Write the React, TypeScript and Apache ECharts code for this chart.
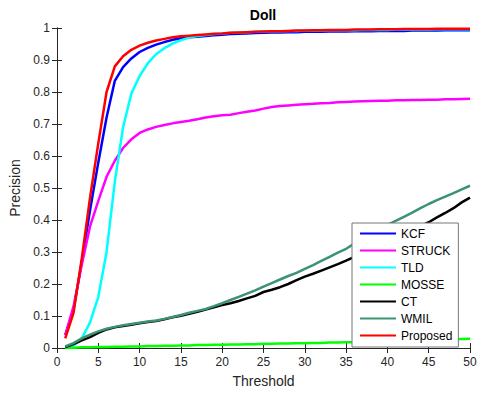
import React, { useEffect, useRef } from "react";
import * as echarts from "echarts";

const thresholds = Array.from({ length: 50 }, (_, i) => i + 1);

const seriesNames = ["KCF", "STRUCK", "TLD", "MOSSE", "CT", "WMIL", "Proposed"];
const seriesColors = ["#0000ff", "#ff00ff", "#00ffff", "#00ff00", "#000000", "#3c9370", "#ff0000"];

const kcf = [
  0.04, 0.12, 0.27, 0.43, 0.58, 0.72, 0.835, 0.878, 0.905, 0.925,
  0.938, 0.948, 0.956, 0.963, 0.968, 0.971, 0.973, 0.975, 0.977, 0.979,
  0.981, 0.982, 0.983, 0.984, 0.985, 0.986, 0.986, 0.987, 0.987, 0.988,
  0.988, 0.988, 0.989, 0.989, 0.989, 0.99, 0.99, 0.99, 0.991, 0.991,
  0.991, 0.991, 0.992, 0.992, 0.992, 0.992, 0.993, 0.993, 0.993, 0.993,
];
const struck = [
  0.04, 0.13, 0.26, 0.38, 0.46, 0.535, 0.585, 0.625, 0.652, 0.672,
  0.683, 0.691, 0.697, 0.702, 0.706, 0.71, 0.715, 0.72, 0.724, 0.727,
  0.729, 0.734, 0.738, 0.742, 0.748, 0.753, 0.756, 0.758, 0.76, 0.762,
  0.763, 0.765, 0.766, 0.768, 0.769, 0.77, 0.771, 0.772, 0.773, 0.773,
  0.774, 0.774, 0.775, 0.775, 0.776, 0.776, 0.777, 0.777, 0.778, 0.779,
];
const tld = [
  0.0, 0.008, 0.03, 0.08, 0.16, 0.3, 0.52, 0.69, 0.795, 0.85,
  0.89, 0.918, 0.937, 0.951, 0.962, 0.97, 0.975, 0.978, 0.981, 0.983,
  0.985, 0.986, 0.987, 0.988, 0.989, 0.99, 0.99, 0.991, 0.991, 0.992,
  0.992, 0.992, 0.993, 0.993, 0.993, 0.993, 0.994, 0.994, 0.994, 0.994,
  0.995, 0.995, 0.995, 0.995, 0.995, 0.996, 0.996, 0.996, 0.996, 0.996,
];
const mosse = [
  0.0, 0.001, 0.002, 0.002, 0.003, 0.003, 0.004, 0.004, 0.005, 0.005,
  0.006, 0.006, 0.007, 0.007, 0.008, 0.008, 0.009, 0.009, 0.01, 0.01,
  0.011, 0.011, 0.012, 0.012, 0.013, 0.013, 0.014, 0.014, 0.015, 0.015,
  0.016, 0.016, 0.017, 0.017, 0.018, 0.018, 0.019, 0.019, 0.02, 0.02,
  0.021, 0.022, 0.022, 0.023, 0.024, 0.025, 0.026, 0.027, 0.028, 0.029,
];
const ct = [
  0.003, 0.012, 0.024, 0.034, 0.047, 0.058, 0.065, 0.069, 0.073, 0.077,
  0.081, 0.084, 0.09, 0.096, 0.101, 0.107, 0.113, 0.12, 0.127, 0.134,
  0.14, 0.147, 0.155, 0.163, 0.175, 0.182, 0.19, 0.2, 0.212, 0.223,
  0.232, 0.242, 0.252, 0.262, 0.273, 0.285, 0.297, 0.309, 0.32, 0.332,
  0.344, 0.356, 0.368, 0.38, 0.393, 0.408, 0.422, 0.437, 0.455, 0.47,
];
const wmil = [
  0.005, 0.015, 0.03, 0.042, 0.052, 0.06, 0.066, 0.071, 0.075, 0.079,
  0.083, 0.086, 0.091, 0.097, 0.103, 0.11, 0.116, 0.122, 0.131, 0.14,
  0.15, 0.16, 0.17, 0.18, 0.192, 0.203, 0.214, 0.225, 0.235, 0.247,
  0.259, 0.272, 0.285, 0.298, 0.31, 0.326, 0.343, 0.36, 0.373, 0.385,
  0.397, 0.41, 0.423, 0.437, 0.45, 0.462, 0.473, 0.484, 0.496, 0.507,
];
const proposed = [
  0.03, 0.11, 0.28, 0.47, 0.64, 0.8, 0.88, 0.912, 0.932, 0.945,
  0.954, 0.961, 0.966, 0.971, 0.974, 0.976, 0.978, 0.98, 0.982, 0.983,
  0.985, 0.986, 0.987, 0.988, 0.989, 0.99, 0.99, 0.991, 0.992, 0.992,
  0.993, 0.993, 0.994, 0.994, 0.994, 0.995, 0.995, 0.995, 0.996, 0.996,
  0.996, 0.997, 0.997, 0.997, 0.997, 0.998, 0.998, 0.998, 0.998, 0.998,
];

const seriesValues = [kcf, struck, tld, mosse, ct, wmil, proposed];

const axisColor = "#262626";
const fontFamily = "'Liberation Sans', Arial, Helvetica, sans-serif";

export default function App() {
  const ref = useRef<HTMLDivElement>(null);

  useEffect(() => {
    if (!ref.current) return;
    const chart = echarts.init(ref.current, undefined, {
      renderer: "svg",
      width: 482,
      height: 393,
    });

    const tickCommon = {
      axisLine: { show: true, lineStyle: { color: axisColor, width: 1 } },
      axisTick: { show: true, inside: true, length: 5, lineStyle: { color: axisColor } },
      splitLine: { show: false },
    };

    chart.setOption({
      animation: false,
      backgroundColor: "#ffffff",
      textStyle: { fontFamily },
      title: {
        text: "Doll",
        left: 263,
        top: 8,
        padding: 0,
        textAlign: "center",
        textStyle: { fontSize: 14, fontWeight: "bold", color: "#000", fontFamily },
      },
      grid: { left: 57, top: 28, right: 12, bottom: 39, containLabel: false },
      xAxis: [
        {
          type: "value",
          min: 0,
          max: 50,
          interval: 5,
          position: "bottom",
          name: "Threshold",
          nameLocation: "middle",
          nameGap: 26,
          nameTextStyle: { fontSize: 14, color: axisColor, fontFamily },
          axisLabel: { fontSize: 12, color: axisColor, margin: 8, fontFamily },
          ...tickCommon,
        },
        {
          type: "value",
          min: 0,
          max: 50,
          interval: 5,
          position: "top",
          axisLabel: { show: false },
          ...tickCommon,
        },
      ],
      yAxis: [
        {
          type: "value",
          min: 0,
          max: 1,
          interval: 0.1,
          position: "left",
          name: "Precision",
          nameLocation: "middle",
          nameGap: 28,
          nameTextStyle: { fontSize: 14, color: axisColor, fontFamily },
          axisLabel: { fontSize: 12, color: axisColor, margin: 7, fontFamily },
          ...tickCommon,
        },
        {
          type: "value",
          min: 0,
          max: 1,
          interval: 0.1,
          position: "right",
          axisLabel: { show: false },
          ...tickCommon,
        },
      ],
      legend: {
        orient: "vertical",
        left: 352,
        top: 223,
        padding: [2, 6, 3, 8],
        itemGap: 0,
        itemWidth: 36,
        itemHeight: 2,
        icon: "rect",
        backgroundColor: "#ffffff",
        borderColor: "#777777",
        borderWidth: 1,
        borderRadius: 0,
        textStyle: { fontSize: 12, lineHeight: 17, color: "#000", fontFamily },
        data: seriesNames,
      },
      series: seriesNames.map((name, i) => ({
        name,
        type: "line",
        xAxisIndex: 0,
        yAxisIndex: 0,
        showSymbol: false,
        symbol: "none",
        color: seriesColors[i],
        lineStyle: { width: 2.5, color: seriesColors[i] },
        data: thresholds.map((t, j) => [t, seriesValues[i][j]]),
      })),
    });

    return () => chart.dispose();
  }, []);

  return (
    <div
      ref={ref}
      style={{ position: "fixed", left: 0, top: 0, width: 482, height: 393 }}
    />
  );
}
